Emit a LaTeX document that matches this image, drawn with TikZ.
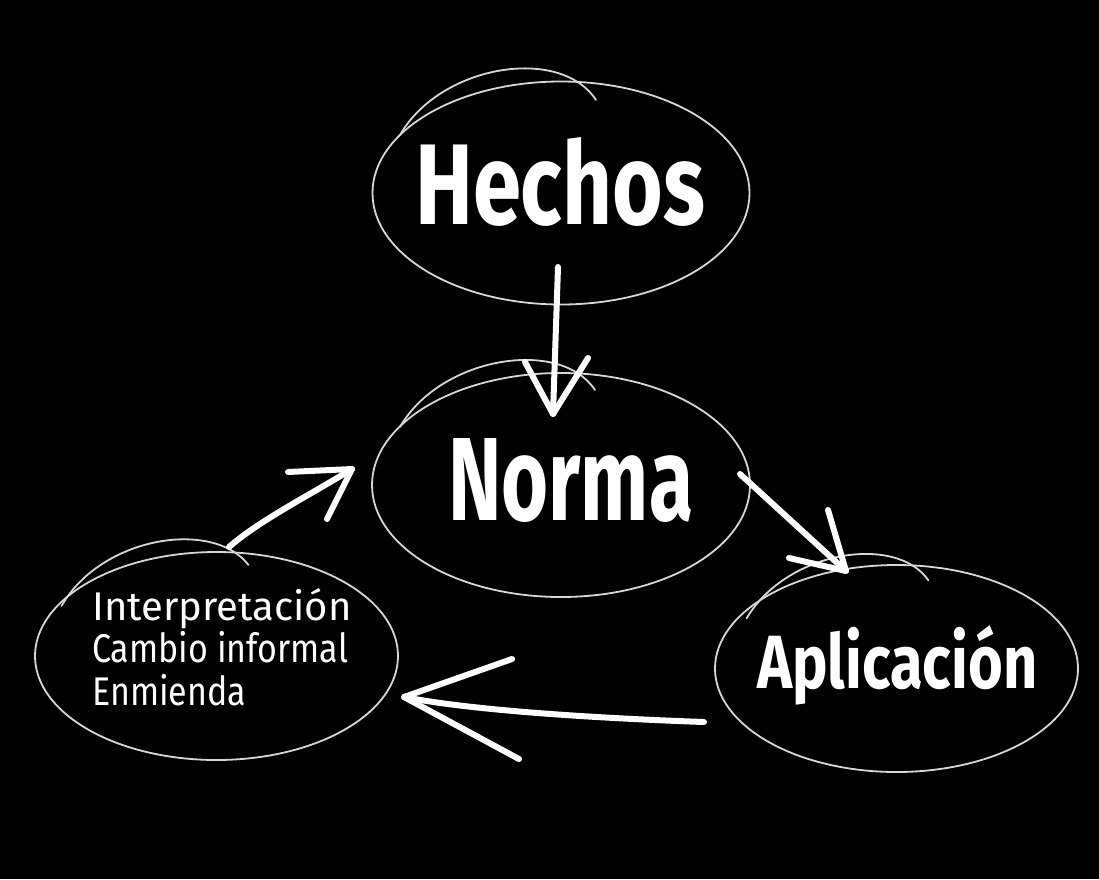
\documentclass[tikz,border=0pt]{standalone}
\usepackage{fontspec}
\setmainfont{Fira Sans}
\usetikzlibrary{shapes.geometric}
\definecolor{chalkline}{RGB}{215,215,215}
\begin{document}
\begin{tikzpicture}[x=1pt,y=-1pt,
  oval/.style={draw=chalkline, line width=1.8pt, ellipse, inner sep=0pt},
  loopline/.style={draw=chalkline, line width=1.8pt, line cap=round},
  chalk/.style={draw=white, line width=6pt, line cap=round, line join=round},
  big/.style={text=white, inner sep=0pt, anchor=base west},
  small/.style={text=white, inner sep=0pt, anchor=base west, font=\fontsize{40}{42}\selectfont}]
\fill[black] (0,0) rectangle (1099,879);
\useasboundingbox (0,0) rectangle (1099,879);

% ellipses
\node[oval, minimum width=377pt, minimum height=223pt] (hechosE) at (561,193) {};
\node[oval, minimum width=378pt, minimum height=224pt] (normaE) at (561,485) {};
\node[oval, minimum width=363pt, minimum height=207pt] (aplicE) at (896.5,668.5) {};
\node[oval, minimum width=363pt, minimum height=208pt] (leftE) at (216.5,656) {};

% overlapping strokes of the hand-drawn ellipses
\begin{scope}[shift={(561,193)}]
  \draw[loopline] (-161,-58) .. controls (-121,-128) and (-1,-148) .. (35,-93);
\end{scope}
\begin{scope}[shift={(561,485)}]
  \draw[loopline] (-161,-58) .. controls (-121,-128) and (-1,-148) .. (34,-95);
\end{scope}
\begin{scope}[shift={(896.5,668.5)}]
  \draw[loopline] (-150,-50) .. controls (-110,-118) and (0,-135) .. (32,-88);
\end{scope}
\begin{scope}[shift={(216.5,656)}]
  \draw[loopline] (-155,-50) .. controls (-115,-120) and (-3,-137) .. (32,-91);
\end{scope}

% texts
\node[big] (hechos) at (415,224) {\resizebox{290pt}{87pt}{\bfseries Hechos}};
\node[big] (norma) at (448,520) {\resizebox{245pt}{82pt}{\bfseries Norma}};
\node[big] (aplic) at (757,688) {\resizebox{280pt}{63pt}{\bfseries Aplicación}};
\node[small] (interp) at (92,620) {\scalebox{1.0}[1]{Interpretación}};
\node[small] (cambio) at (92,662) {\scalebox{0.85}[1]{Cambio informal}};
\node[small] (enmienda) at (92,705) {\scalebox{0.85}[1]{Enmienda}};

% arrow Hechos -> Norma
\coordinate (a1s) at (558,267);
\coordinate (a1t) at (553,414);
\coordinate (a1l) at (525,362);
\coordinate (a1r) at (588,358);
\draw[chalk] (a1s) -- (a1t);
\draw[chalk] (a1l) -- (a1t) -- (a1r);

% arrow Norma -> Aplicacion
\coordinate (a2s) at (740,474);
\coordinate (a2t) at (846,571);
\coordinate (a2u) at (828,510);
\coordinate (a2l) at (789,558);
\draw[chalk] (a2s) -- (a2t);
\draw[chalk] (a2u) -- (a2t) -- (a2l);

% arrow Aplicacion -> left group
\coordinate (a3s) at (704,722);
\coordinate (a3t) at (404,697);
\coordinate (a3u) at (512,659);
\coordinate (a3d) at (519,759);
\draw[chalk] (a3s) .. controls (620,719) and (480,712) .. (a3t);
\draw[chalk] (a3u) -- (a3t) -- (a3d);

% arrow left group -> Norma
\coordinate (a4s) at (229,547);
\coordinate (a4t) at (352,469);
\coordinate (a4u) at (288,472);
\coordinate (a4d) at (327,519);
\draw[chalk] (a4s) .. controls (260,520) and (310,495) .. (a4t);
\draw[chalk] (a4u) -- (a4t) -- (a4d);
\end{tikzpicture}
\end{document}
